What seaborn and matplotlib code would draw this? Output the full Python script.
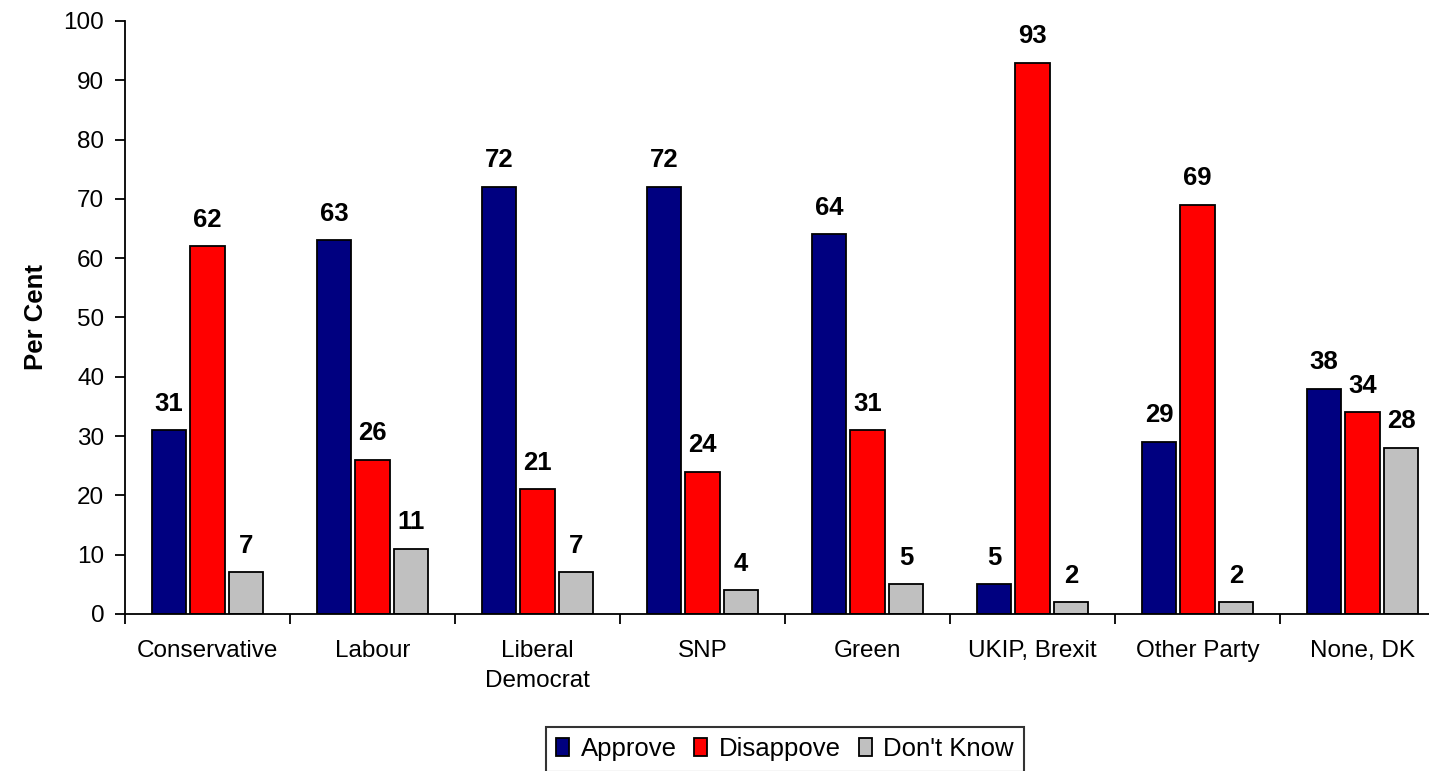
import numpy as np
import pandas as pd
import matplotlib
matplotlib.use("Agg")
import matplotlib.pyplot as plt
import seaborn as sns

# ---- data ----
parties = ["Conservative", "Labour", "Liberal\nDemocrat", "SNP", "Green",
           "UKIP, Brexit", "Other Party", "None, DK"]
approve = [31, 63, 72, 72, 64, 5, 29, 38]
disapprove = [62, 26, 21, 24, 31, 93, 69, 34]
dont_know = [7, 11, 7, 4, 5, 2, 2, 28]
series_names = ["Approve", "Disappove", "Don't Know"]
y_ticks = list(range(0, 101, 10))

# ---- styling ----
sns.set_theme(style="white")
plt.rcParams["font.family"] = ["Liberation Sans", "DejaVu Sans"]
plt.rcParams["text.color"] = "black"
plt.rcParams["axes.labelcolor"] = "black"
plt.rcParams["xtick.color"] = "black"
plt.rcParams["ytick.color"] = "black"

colors = ["#000080", "#FF0000", "#C0C0C0"]

df = pd.DataFrame({
    "party": parties * 3,
    "series": sum([[s] * len(parties) for s in series_names], []),
    "value": approve + disapprove + dont_know,
})

fig = plt.figure(figsize=(14.29, 7.71), dpi=100)
ax = fig.add_axes([125 / 1429, 1 - 614 / 771, 1320 / 1429, 593 / 771])

sns.barplot(data=df, x="party", y="value", hue="series", order=parties,
            hue_order=series_names, palette=colors, saturation=1,
            width=0.7, gap=0.1, edgecolor="black", linewidth=1.3, ax=ax,
            legend=True)

for cont in ax.containers:
    ax.bar_label(cont, fmt="%d", padding=10.5, fontsize=18.5, fontweight="bold",
                 color="black")

ax.set_ylim(0, 100)
ax.set_xlim(-0.5, len(parties) - 0.5)
ax.set_yticks(y_ticks)
ax.set_yticklabels([str(t) for t in y_ticks], fontsize=17.5)

# x ticks: major at boundaries (marks), minor at centers (labels)
ax.set_xticks(np.arange(-0.5, len(parties) + 0.5, 1.0))
ax.set_xticklabels([])
ax.set_xticks(np.arange(len(parties)), minor=True)
ax.set_xticklabels(parties, minor=True, fontsize=17.5, linespacing=1.45)
ax.tick_params(axis="x", which="major", length=7, width=1.3, color="black",
               direction="out", bottom=True)
ax.tick_params(axis="x", which="minor", length=0, pad=19)
ax.tick_params(axis="y", length=7, width=1.3, color="black", direction="out",
               left=True, pad=8)

ax.set_xlabel("")
ax.set_ylabel("Per Cent", fontsize=18.5, fontweight="bold", labelpad=11)

for s in ["top", "right"]:
    ax.spines[s].set_visible(False)
for s in ["left", "bottom"]:
    ax.spines[s].set_color("black")
    ax.spines[s].set_linewidth(1.3)
ax.grid(False)

handles, labels = ax.get_legend_handles_labels()
ax.get_legend().remove()
leg = fig.legend(handles, labels, loc="upper center", ncol=3,
                 bbox_to_anchor=(785 / 1429, 1 - 727 / 771), fontsize=18.5,
                 frameon=True, fancybox=False, edgecolor="black",
                 handlelength=0.5, handleheight=0.7, handletextpad=0.45,
                 columnspacing=0.7, borderpad=0.4, borderaxespad=0.0)
leg.get_frame().set_linewidth(1.5)

fig.savefig("out.png", dpi=100, facecolor="white")
